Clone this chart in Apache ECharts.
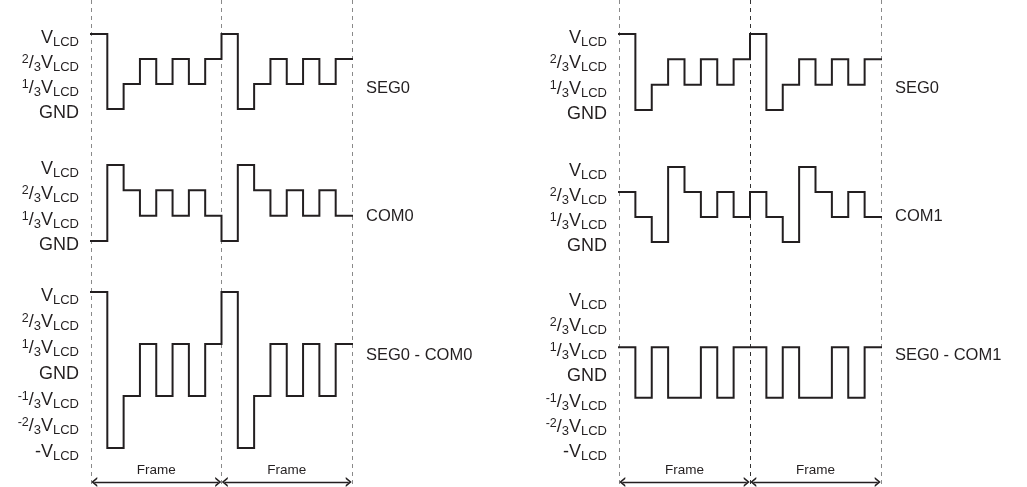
<!DOCTYPE html>
<html>
<head>
<meta charset="utf-8">
<script src="https://cdn.jsdelivr.net/npm/echarts@6/dist/echarts.min.js"></script>
<style>
html,body{margin:0;padding:0;background:#fff;}
#chart{width:1027px;height:487px;}
</style>
</head>
<body>
<div id="chart"></div>
<script>
// Waveform levels in units of VLCD/3, one value per time slot (8 slots per frame, 2 frames)
const seg0     = [3, 0, 1, 2, 1, 2, 1, 2,   3, 0, 1, 2, 1, 2, 1, 2];
const com0     = [0, 3, 2, 1, 2, 1, 2, 1,   0, 3, 2, 1, 2, 1, 2, 1];
const com1     = [2, 1, 0, 3, 2, 1, 2, 1,   2, 1, 0, 3, 2, 1, 2, 1];
const seg0com0 = [3, -3, -1, 1, -1, 1, -1, 1,   3, -3, -1, 1, -1, 1, -1, 1];
const seg0com1 = [1, -1, 1, -1, -1, 1, -1, 1,   1, -1, 1, -1, -1, 1, -1, 1];

const seriesNames = ['SEG0', 'COM0', 'SEG0 - COM0', 'SEG0', 'COM1', 'SEG0 - COM1'];
const frameLabel = 'Frame';

// Tick labels (level values and their rich-text labels)
const levelValues = [3, 2, 1, 0, -1, -2, -3];
const levelLabels = [
  '{m|V}{s|LCD}',
  '{p|2}{m|/}{s|3}{m|V}{s|LCD}',
  '{p|1}{m|/}{s|3}{m|V}{s|LCD}',
  '{m|GND}',
  '{p|-1}{m|/}{s|3}{m|V}{s|LCD}',
  '{p|-2}{m|/}{s|3}{m|V}{s|LCD}',
  '{m|-V}{s|LCD}'
];

const FONT = '"Liberation Sans", Arial, Helvetica, sans-serif';
const INK = '#231f20';

function toSteps(vals) {
  const pts = vals.map((v, i) => [i, v]);
  pts.push([vals.length, vals[vals.length - 1]]);
  return pts;
}
function levelFormatter(v) {
  const i = levelValues.indexOf(v);
  return i >= 0 ? levelLabels[i] : '';
}
const rich = {
  m: {fontSize: 18, lineHeight: 18, fontFamily: FONT, color: INK, padding: [4, 0, 0, 0], verticalAlign: 'top'},
  s: {fontSize: 13, lineHeight: 11, fontFamily: FONT, color: INK, padding: [11, 0, 0, 0], verticalAlign: 'top'},
  p: {fontSize: 12.5, lineHeight: 12, fontFamily: FONT, color: INK, padding: [3, 0, 7, 0], verticalAlign: 'top'}
};

const L = 91, LW = 261, R = 619, RW = 262;
const panels = [
  {left: L, width: LW, top: 34,  height: 75,  min: 0,  max: 3, data: seg0},
  {left: L, width: LW, top: 165, height: 76,  min: 0,  max: 3, data: com0},
  {left: L, width: LW, top: 292, height: 156, min: -3, max: 3, data: seg0com0},
  {left: R, width: RW, top: 34,  height: 76,  min: 0,  max: 3, data: seg0},
  {left: R, width: RW, top: 167, height: 75,  min: 0,  max: 3, data: com1},
  {left: R, width: RW, top: 297, height: 151, min: -3, max: 3, data: seg0com1}
];
const titlePos = [
  {left: 366, top: 80}, {left: 366, top: 208}, {left: 366, top: 347},
  {left: 895, top: 80}, {left: 895, top: 208}, {left: 895, top: 347}
];

const grid = [], xAxis = [], yAxis = [], series = [], title = [];

// overlay grids for frame boundaries (dashed) and frame arrows
[[L, LW, ['#8a8a8a', '#8a8a8a', '#8a8a8a']], [R, RW, ['#8a8a8a', '#333333', '#8a8a8a']]].forEach((c, k) => {
  grid.push({left: c[0], width: c[1], top: 0, height: 487});
  xAxis.push({gridIndex: k, type: 'value', min: 0, max: 16, interval: 8,
    axisLine: {show: false}, axisTick: {show: false}, axisLabel: {show: false},
    splitLine: {show: true, showMinLine: true, showMaxLine: true,
      lineStyle: {color: c[2], width: 1, type: [4, 4]}}});
  yAxis.push({gridIndex: k, type: 'value', min: 0, max: 487, inverse: true, show: false});
  series.push({
    type: 'line', xAxisIndex: k, yAxisIndex: k, data: [], silent: true, z: 1,
    markLine: {
      silent: true, animation: false,
      symbol: ['path://M5,0 L10,8 L8,8 L5,3.2 L2,8 L0,8 Z', 'path://M5,0 L10,8 L8,8 L5,3.2 L2,8 L0,8 Z'],
      symbolSize: [10, 6],
      lineStyle: {color: INK, width: 1.4, type: 'solid'},
      label: {show: true, position: 'middle', formatter: frameLabel, distance: 5,
        fontSize: 13.5, fontFamily: FONT, color: INK},
      data: [
        [{coord: [0.2, 482]}, {coord: [7.8, 482]}],
        [{coord: [8.2, 482]}, {coord: [15.8, 482]}]
      ]
    }
  });
});

panels.forEach((p, i) => {
  const g = i + 2;
  grid.push({left: p.left, width: p.width, top: p.top, height: p.height});
  xAxis.push({gridIndex: g, type: 'value', min: 0, max: 16, show: false});
  yAxis.push({gridIndex: g, type: 'value', min: p.min, max: p.max, interval: 1,
    axisLine: {show: false}, axisTick: {show: false}, splitLine: {show: false},
    axisLabel: {show: true, margin: 12, formatter: levelFormatter, rich: rich, align: 'right',
      showMinLabel: true, showMaxLabel: true, hideOverlap: false}});
  series.push({
    type: 'line', xAxisIndex: g, yAxisIndex: g, name: seriesNames[i],
    data: toSteps(p.data), step: 'end', symbol: 'none', clip: false, z: 5,
    lineStyle: {color: INK, width: 2, join: 'miter', cap: 'square'}
  });
  title.push({text: seriesNames[i], left: titlePos[i].left, top: titlePos[i].top, padding: 0,
    textStyle: {fontSize: 16.5, fontWeight: 'normal', fontFamily: FONT, color: INK}});
});

const chart = echarts.init(document.getElementById('chart'), null, {renderer: 'canvas'});
chart.setOption({
  animation: false,
  backgroundColor: '#ffffff',
  title: title,
  grid: grid,
  xAxis: xAxis,
  yAxis: yAxis,
  series: series
});
</script>
</body>
</html>
